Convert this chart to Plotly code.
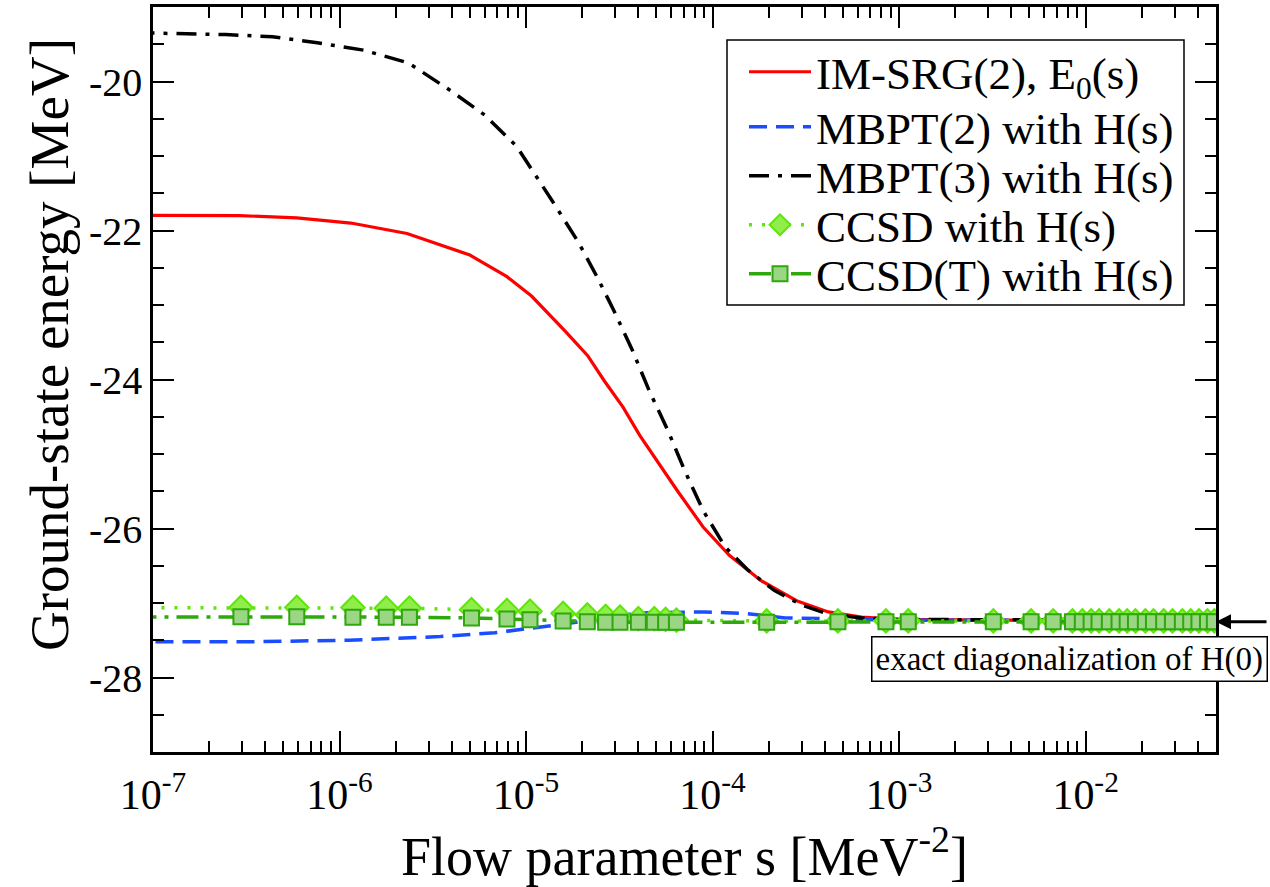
import numpy as np
import plotly.graph_objects as go

# ---------------- data ----------------
s_imsrg = [1e-8, 1e-7, 2.9e-7, 5.9e-7, 1.15e-6, 2.3e-6, 5.0e-6, 7.9e-6, 1.07e-5, 1.62e-5,
           2.14e-5, 2.63e-5, 3.31e-5, 4.07e-5, 5.13e-5, 6.46e-5, 8.9e-5, 1.23e-4, 1.82e-4,
           2.82e-4, 4.17e-4, 6.3e-4, 1.0e-3, 3.0e-3, 1.0e-2, 5.0e-2]
E_imsrg = [-21.79, -21.79, -21.80, -21.83, -21.90, -22.04, -22.33, -22.62, -22.88, -23.35,
           -23.68, -24.02, -24.37, -24.75, -25.13, -25.49, -25.98, -26.36, -26.70,
           -26.97, -27.12, -27.19, -27.22, -27.23, -27.23, -27.23]

s_mbpt2 = [1e-8, 1e-7, 3.3e-7, 1.12e-6, 3.47e-6, 6.8e-6, 1.1e-5, 1.74e-5, 2.82e-5,
           4.47e-5, 9.1e-5, 1.48e-4, 2.45e-4, 5.0e-4, 1.0e-3, 1.0e-2, 5.0e-2]
E_mbpt2 = [-27.52, -27.52, -27.52, -27.50, -27.45, -27.40, -27.33, -27.27, -27.18,
           -27.13, -27.12, -27.14, -27.20, -27.22, -27.23, -27.23, -27.23]

s_mbpt3 = [1e-8, 1e-7, 2.45e-7, 4.37e-7, 7.6e-7, 1.35e-6, 2.34e-6, 3.98e-6, 6.0e-6,
           8.9e-6, 1.38e-5, 1.9e-5, 2.4e-5, 2.95e-5, 3.72e-5, 4.57e-5, 5.75e-5, 7.08e-5,
           8.9e-5, 1.17e-4, 1.55e-4, 2.14e-4, 3.02e-4, 4.17e-4, 6.3e-4, 1.0e-3, 1.0e-2, 5.0e-2]
E_mbpt3 = [-19.35, -19.35, -19.37, -19.40, -19.48, -19.58, -19.75, -20.13, -20.45,
           -20.87, -21.60, -22.15, -22.62, -23.07, -23.61, -24.15, -24.68, -25.22,
           -25.76, -26.25, -26.56, -26.83, -27.03, -27.15, -27.20, -27.22, -27.23, -27.23]

s_cc = [1e-8, 2.96e-7, 5.9e-7, 1.18e-6, 1.78e-6, 2.37e-6, 5.1e-6, 7.9e-6, 1.05e-5,
        1.58e-5, 2.13e-5, 2.67e-5, 3.19e-5, 4.0e-5, 4.87e-5, 5.6e-5, 6.4e-5,
        1.95e-4, 4.7e-4, 8.5e-4, 1.12e-3, 3.2e-3, 5.1e-3, 6.7e-3, 8.5e-3, 9.6e-3,
        1.07e-2, 1.18e-2, 1.34e-2, 1.51e-2, 1.67e-2, 1.85e-2, 2.09e-2, 2.31e-2,
        2.62e-2, 2.92e-2, 3.3e-2, 3.66e-2, 4.05e-2, 4.5e-2, 4.9e-2]
E_ccsd = [-27.06, -27.06, -27.06, -27.06, -27.07, -27.07, -27.09, -27.10, -27.11,
          -27.14, -27.16, -27.18, -27.19, -27.21, -27.21, -27.22, -27.23,
          -27.24, -27.24, -27.24, -27.24, -27.24, -27.24, -27.24, -27.24, -27.24,
          -27.24, -27.24, -27.24, -27.24, -27.24, -27.24, -27.24, -27.24,
          -27.24, -27.24, -27.24, -27.24, -27.24, -27.24, -27.24]
E_ccsdt = [-27.185, -27.185, -27.185, -27.19, -27.19, -27.19, -27.20, -27.215, -27.225,
           -27.24, -27.25, -27.26, -27.26, -27.26, -27.26, -27.26, -27.26,
           -27.26, -27.25, -27.25, -27.25, -27.25, -27.25, -27.25, -27.25, -27.25,
           -27.25, -27.25, -27.25, -27.25, -27.25, -27.25, -27.25, -27.25,
           -27.25, -27.25, -27.25, -27.25, -27.25, -27.25, -27.25]

E_exact = -27.25

series_names = ["IM-SRG(2), E<sub>0</sub>(s)", "MBPT(2) with H(s)", "MBPT(3) with H(s)",
                "CCSD with H(s)", "CCSD(T) with H(s)"]

x_tickvals = [1e-7, 1e-6, 1e-5, 1e-4, 1e-3, 1e-2]
x_ticktext = ["10<sup>-7</sup>", "10<sup>-6</sup>", "10<sup>-5</sup>",
              "10<sup>-4</sup>", "10<sup>-3</sup>", "10<sup>-2</sup>"]
y_tickvals = [-28, -26, -24, -22, -20]
y_ticktext = ["-28", "-26", "-24", "-22", "-20"]

# ---------------- figure ----------------
FONT = "Liberation Serif"
fig = go.Figure()

fig.add_trace(go.Scatter(x=s_imsrg, y=E_imsrg, mode="lines", name=series_names[0],
                         legend="legend", showlegend=True,
                         line=dict(color="#ff0000", width=3.2)))
fig.add_trace(go.Scatter(x=s_mbpt2, y=E_mbpt2, mode="lines", name=series_names[1],
                         legend="legend2", showlegend=True,
                         line=dict(color="#1a4dff", width=3.5, dash="18px,9px")))
fig.add_trace(go.Scatter(x=s_mbpt3, y=E_mbpt3, mode="lines", name=series_names[2],
                         legend="legend3", showlegend=True,
                         line=dict(color="black", width=3.5, dash="20px,9px,4px,9px")))
fig.add_trace(go.Scatter(x=s_cc, y=E_ccsd, mode="lines+markers", name=series_names[3],
                         legend="legend4", showlegend=True,
                         line=dict(color="#5ee60a", width=3.5, dash="3px,10px"),
                         marker=dict(symbol="diamond", size=18, color="#8fee4a",
                                     line=dict(color="#5ee60a", width=2))))
fig.add_trace(go.Scatter(x=s_cc, y=E_ccsdt, mode="lines+markers", name=series_names[4],
                         legend="legend5", showlegend=True,
                         line=dict(color="#2ea80c", width=3.5, dash="22px,8px,4px,8px"),
                         marker=dict(symbol="square", size=15, color="#9bd685",
                                     line=dict(color="#2ea80c", width=2))))

minor_x = [k * 10.0 ** n for n in range(-7, -1) for k in range(2, 10) if k * 10.0 ** n <= 0.05]

fig.update_xaxes(type="log", range=[-7, np.log10(0.05)],
                 tickvals=x_tickvals, ticktext=x_ticktext,
                 ticks="inside", ticklen=21, tickwidth=2, tickcolor="black",
                 minor=dict(tickvals=minor_x, ticks="inside", ticklen=11,
                            tickwidth=2, tickcolor="black", showgrid=False),
                 showline=True, linewidth=2.5, linecolor="black", mirror="allticks",
                 showgrid=False, zeroline=False, ticklabelstandoff=4,
                 tickfont=dict(family=FONT, size=42, color="black"),
                 title=dict(text="Flow parameter s [MeV<sup>-2</sup>]",
                            font=dict(family=FONT, size=54, color="black"),
                            standoff=8))
fig.update_yaxes(range=[-29, -19],
                 tickvals=y_tickvals, ticktext=y_ticktext,
                 ticks="inside", ticklen=21, tickwidth=2, tickcolor="black",
                 minor=dict(dtick=0.5, ticks="inside", ticklen=11,
                            tickwidth=2, tickcolor="black", showgrid=False),
                 showline=True, linewidth=2.5, linecolor="black", mirror="allticks",
                 showgrid=False, zeroline=False,
                 tickfont=dict(family=FONT, size=40, color="black"))

PLOT_T, PLOT_B, PLOT_L, PLOT_W = 7, 752, 153, 1063
PLOT_H = PLOT_B - PLOT_T

# y-axis title (placed as rotated text, slightly above the axis centre as in the original)
fig.add_annotation(x=(50 - PLOT_L) / PLOT_W, xref="paper", xanchor="center",
                   y=(PLOT_B - 345) / PLOT_H, yref="paper", yanchor="middle",
                   text="Ground-state energy [MeV]", textangle=-90, showarrow=False,
                   font=dict(family=FONT, size=55, color="black"))

fig.add_annotation(x=1.0, xref="paper", y=E_exact, yref="y", text="",
                   showarrow=True, arrowhead=2, arrowsize=1, arrowwidth=3,
                   arrowcolor="black", ax=52, ay=0)
fig.add_annotation(x=1.049, xref="paper", xanchor="right",
                   y=(PLOT_B - 636) / PLOT_H, yref="paper", yanchor="top",
                   text="exact diagonalization of H(0)", showarrow=False,
                   font=dict(family=FONT, size=33, color="black"),
                   bgcolor="white", bordercolor="black", borderwidth=1.5, borderpad=3)

# legend frame (one box around five single-entry legends)
fig.add_shape(type="rect", xref="paper", yref="paper",
              x0=(727 - PLOT_L) / PLOT_W, x1=(1184 - PLOT_L) / PLOT_W,
              y0=(PLOT_B - 305) / PLOT_H, y1=(PLOT_B - 40) / PLOT_H,
              line=dict(color="black", width=1.5), fillcolor="white", layer="below")

row_centres = [72, 127, 176, 225, 274]
legend_common = dict(x=(744 - PLOT_L) / PLOT_W, xanchor="left", yanchor="middle",
                     bgcolor="rgba(0,0,0,0)", borderwidth=0,
                     font=dict(family=FONT, size=45, color="black"),
                     itemwidth=62, tracegroupgap=0, visible=True)
legend_layout = {}
for i, yc in enumerate(row_centres):
    key = "legend" if i == 0 else f"legend{i + 1}"
    legend_layout[key] = dict(legend_common, y=(PLOT_B - yc) / PLOT_H)

fig.update_layout(
    width=1270, height=887,
    margin=dict(l=153, r=54, t=7, b=135, autoexpand=False),
    paper_bgcolor="white", plot_bgcolor="white",
    font=dict(family=FONT, color="black"),
    showlegend=True,
    **legend_layout,
)

fig.write_html("out.html", config={"displayModeBar": False},
               post_script="document.body.style.margin='0px';document.body.style.padding='0px';")
